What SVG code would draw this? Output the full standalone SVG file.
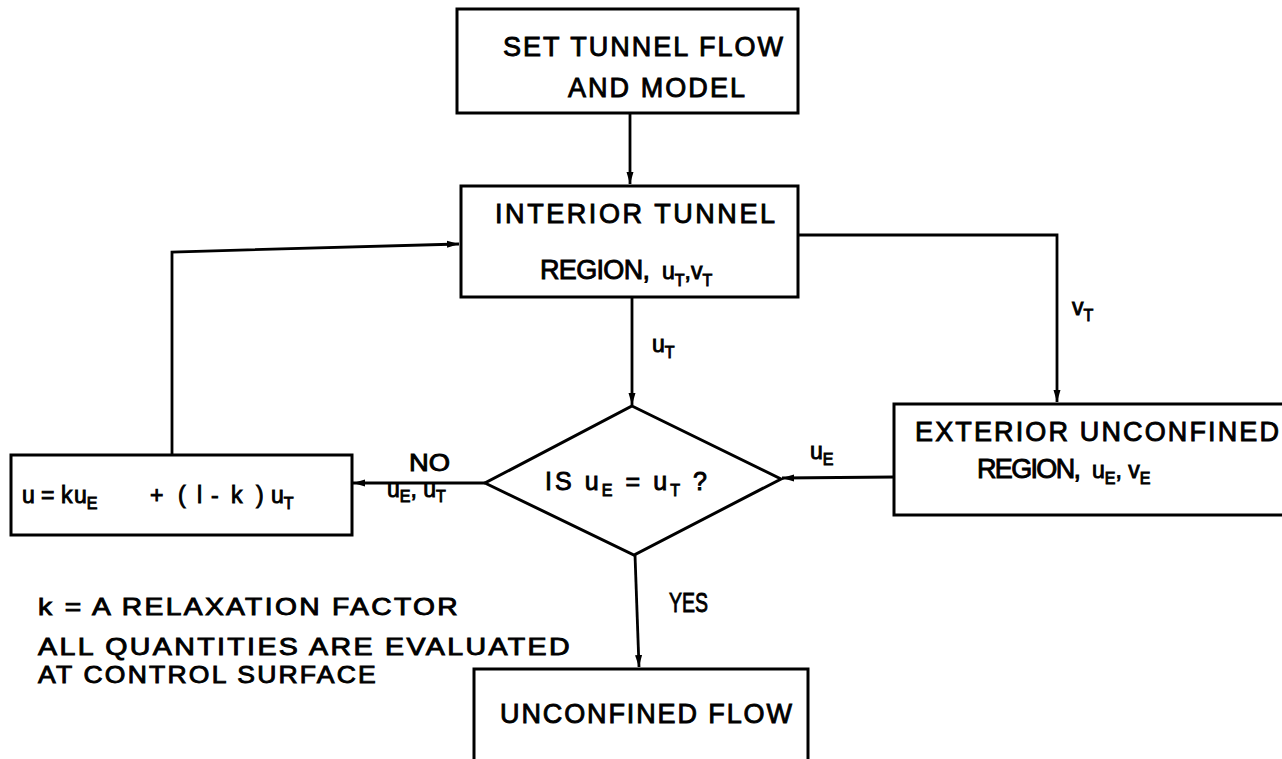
<svg xmlns="http://www.w3.org/2000/svg" width="1282" height="759" viewBox="0 0 1282 759">
<defs>
<marker id="ah" viewBox="0 0 12 10" refX="12" refY="5" markerWidth="12" markerHeight="10" markerUnits="userSpaceOnUse" orient="auto">
<path d="M0,1.5 L12,5 L0,8.5 Z" fill="#000"/>
</marker>
<style>
.box{fill:#fff;stroke:#000;stroke-width:3}
.ln{fill:none;stroke:#000;stroke-width:2.8}
text{font-family:"Liberation Sans","DejaVu Sans",sans-serif;font-weight:normal;fill:#000;stroke:#000;stroke-width:0.9}
.t{font-size:27px}
.n{font-size:24px;letter-spacing:2px}
.s{font-size:23px}
.d{font-size:25px}
.sub{font-size:16px}
</style>
</defs>
<rect width="1282" height="759" fill="#fff"/>
<g id="connectors">
<path class="ln" d="M630,113 V184" marker-end="url(#ah)"/>
<path class="ln" d="M172,455 V252 L459,244" marker-end="url(#ah)"/>
<path class="ln" d="M798,235 H1057 V402" marker-end="url(#ah)"/>
<path class="ln" d="M632,297 V405" marker-end="url(#ah)"/>
<path class="ln" d="M485,483 H353" marker-end="url(#ah)"/>
<path class="ln" d="M895,477 L782,478" marker-end="url(#ah)"/>
<path class="ln" d="M635,555 L639,667" marker-end="url(#ah)"/>
<text class="s" x="652" y="352">u<tspan class="sub" dy="6">T</tspan></text>
<text class="s" x="1072" y="315">v<tspan class="sub" dy="6">T</tspan></text>
<text class="s" x="810" y="459">u<tspan class="sub" dy="6">E</tspan></text>
<text class="s" x="409" y="471" textLength="41" lengthAdjust="spacingAndGlyphs">NO</text>
<text class="s" x="387" y="497">u<tspan class="sub" dy="5">E</tspan><tspan dy="-5">, u</tspan><tspan class="sub" dy="5">T</tspan></text>
<text class="t" x="669" y="612" textLength="39" lengthAdjust="spacingAndGlyphs">YES</text>
</g>
<g id="n-set">
<rect class="box" x="457" y="9" width="341" height="104"/>
<text class="t" x="503" y="56" textLength="280" lengthAdjust="spacing">SET TUNNEL FLOW</text>
<text class="t" x="568" y="97" textLength="177" lengthAdjust="spacing">AND MODEL</text>
</g>
<g id="n-interior">
<rect class="box" x="461" y="186" width="337" height="111"/>
<text class="t" x="495" y="223" textLength="280" lengthAdjust="spacing">INTERIOR TUNNEL</text>
<text class="t" x="540" y="279" textLength="110" lengthAdjust="spacing">REGION,</text>
<text class="s" x="662" y="279">u<tspan class="sub" dy="7">T</tspan><tspan dy="-7">,v</tspan><tspan class="sub" dy="7">T</tspan></text>
</g>
<g id="n-decision">
<polygon class="box" points="632,406 781,479 634,555 485,483"/>
<text class="d" x="545" y="490" textLength="162" lengthAdjust="spacing">IS u<tspan class="sub" dy="6">E</tspan><tspan dy="-6"> = u</tspan><tspan class="sub" dy="6">T</tspan><tspan dy="-6"> ?</tspan></text>
</g>
<g id="n-exterior">
<rect class="box" x="894" y="404" width="400" height="111"/>
<text class="t" x="915" y="441" textLength="364" lengthAdjust="spacing">EXTERIOR UNCONFINED</text>
<text class="t" x="977" y="478" textLength="104" lengthAdjust="spacing">REGION,</text>
<text class="s" x="1092" y="478">u<tspan class="sub" dy="6">E</tspan><tspan dy="-6">, v</tspan><tspan class="sub" dy="6">E</tspan></text>
</g>
<g id="n-relax">
<rect class="box" x="11" y="455" width="341" height="80"/>
<text class="s" y="503"><tspan x="22">u</tspan><tspan x="41">=</tspan><tspan x="61">k</tspan><tspan x="74">u</tspan><tspan class="sub" dy="6">E</tspan><tspan x="150" dy="-6">+</tspan><tspan x="178">(</tspan><tspan x="197">l</tspan><tspan x="211">-</tspan><tspan x="231">k</tspan><tspan x="256">)</tspan><tspan x="271">u</tspan><tspan class="sub" dy="6">T</tspan></text>
</g>
<g id="n-unconfined">
<rect class="box" x="474" y="669" width="334" height="110"/>
<text class="t" x="500" y="723" textLength="292" lengthAdjust="spacing">UNCONFINED FLOW</text>
</g>
<g id="notes">
<text class="n" x="38" y="615" textLength="422" lengthAdjust="spacingAndGlyphs">k = A RELAXATION FACTOR</text>
<text class="n" x="38" y="655" textLength="534" lengthAdjust="spacingAndGlyphs">ALL QUANTITIES ARE EVALUATED</text>
<text class="n" x="38" y="683" textLength="340" lengthAdjust="spacingAndGlyphs">AT CONTROL SURFACE</text>
</g>
</svg>
